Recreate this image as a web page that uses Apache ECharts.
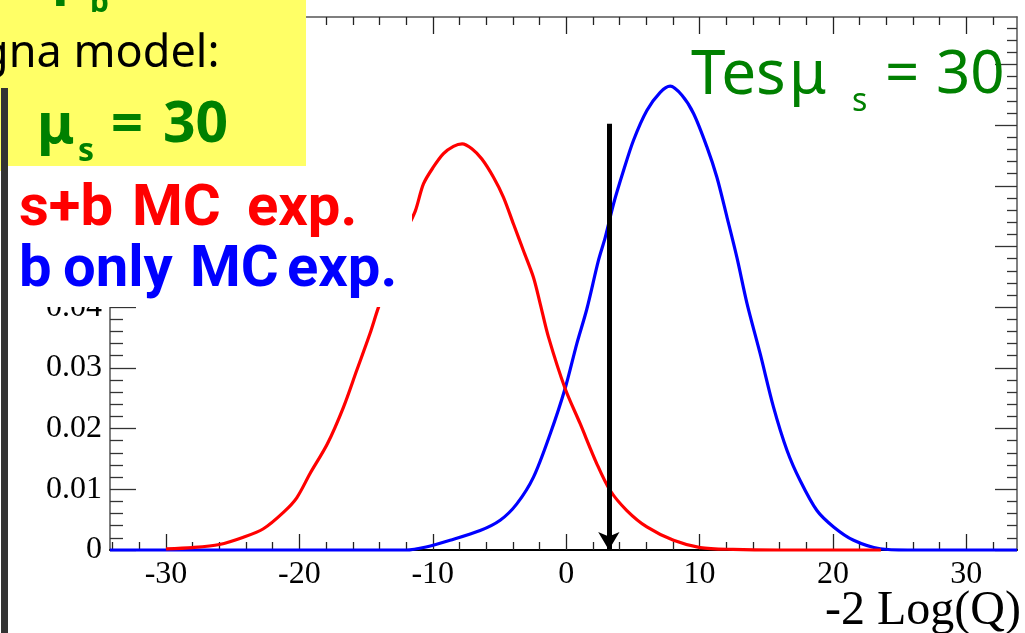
<!DOCTYPE html>
<html>
<head>
<meta charset="utf-8">
<script src="https://cdn.jsdelivr.net/npm/echarts@6/dist/echarts.min.js"></script>
<style>html,body{margin:0;padding:0;background:#fff;}#c{width:1025px;height:633px;}</style>
</head>
<body>
<div id="c"></div>
<script>
// ---- data ----
const xMin = -34.2, xMax = 33.8, yMax = 0.0878;
const xMajorTicks = [-30, -20, -10, 0, 10, 20, 30];
const xMinorTicks = [-34, -32, -28, -26, -24, -22, -18, -16, -14, -12, -8, -6, -4, -2, 2, 4, 6, 8, 12, 14, 16, 18, 22, 24, 26, 28, 32];
const yMajorTicks = [0, 0.01, 0.02, 0.03, 0.04, 0.05, 0.06, 0.07, 0.08];
const yMinorTicks = [0.002, 0.004, 0.006, 0.008, 0.012, 0.014, 0.016, 0.018, 0.022, 0.024, 0.026, 0.028, 0.032, 0.034, 0.036, 0.038, 0.042, 0.044, 0.046, 0.048, 0.052, 0.054, 0.056, 0.058, 0.062, 0.064, 0.066, 0.068, 0.072, 0.074, 0.076, 0.078, 0.082, 0.084, 0.086];

// s+b MC experiments (red)
const sbX = [-30.0, -28.0, -26.0, -24.2, -22.7, -21.2, -20.2, -19.2, -17.9, -16.7, -15.7, -14.7, -14.1, -13.0, -12.0, -11.3, -10.7, -9.95, -9.2, -8.45, -7.8, -7.07, -6.32, -5.45, -4.7, -3.95, -3.2, -2.45, -1.95, -1.33, -0.08, 1.05, 2.3, 3.3, 4.55, 6.05, 8.05, 10.05, 12.5, 16.0, 20.0, 23.6];
const sbY = [0.0002, 0.0004, 0.0009, 0.0021, 0.0035, 0.0062, 0.0086, 0.0126, 0.0175, 0.0235, 0.0296, 0.0357, 0.0398, 0.0465, 0.0525, 0.0559, 0.0603, 0.0631, 0.0653, 0.0665, 0.0669, 0.0661, 0.0644, 0.0614, 0.0581, 0.0537, 0.0493, 0.0449, 0.0406, 0.0351, 0.0266, 0.0208, 0.0142, 0.0098, 0.0065, 0.0038, 0.0016, 0.0004, 0.0001, 0.0, 0.0, 0.0];

// b only MC experiments (blue)
const bX = [-34.2, -12.0, -10.5, -8.7, -6.45, -4.95, -3.7, -2.45, -1.2, -0.08, 0.8, 1.55, 2.42, 2.93, 3.55, 4.3, 5.05, 6.05, 7.05, 7.8, 8.68, 9.55, 10.55, 11.3, 12.06, 12.8, 13.56, 14.55, 15.55, 16.56, 17.55, 18.8, 20.05, 21.55, 23.55, 25.6, 33.8];
const bY = [0.0, 0.0, 0.0005, 0.0016, 0.0032, 0.0049, 0.0076, 0.0120, 0.0191, 0.0266, 0.0340, 0.0397, 0.0477, 0.0515, 0.0570, 0.0625, 0.0675, 0.0724, 0.0754, 0.0764, 0.0749, 0.0719, 0.0664, 0.0614, 0.0548, 0.0482, 0.0406, 0.0323, 0.0235, 0.0164, 0.0114, 0.0065, 0.0038, 0.0016, 0.0002, 0.0, 0.0];

// observed value (arrow)
const obsX = 3.2;
const obsTop = 0.0702;

// ---- chart ----
const chart = echarts.init(document.getElementById('c'), null, {renderer: 'canvas'});
const sbData = sbX.map((x, i) => [x, sbY[i]]);
const bData = bX.map((x, i) => [x, bY[i]]);

const serif = 'Liberation Serif';
const green = '#008000';
const boldFont = 'bold 58px Roboto';

function xAx(pos, ticks, len, withLine, withLabel) {
  return {
    type: 'value', position: pos, min: xMin, max: xMax,
    axisLine: {show: withLine, onZero: false, lineStyle: {color: pos === 'bottom' ? '#000' : '#555', width: pos === 'bottom' ? 2 : 1.5}},
    axisTick: {show: true, inside: true, length: len, customValues: ticks, lineStyle: {color: '#222', width: 1.3}},
    axisLabel: withLabel ? {show: true, customValues: ticks, fontFamily: serif, fontSize: 32, color: '#000', margin: 9} : {show: false},
    splitLine: {show: false}
  };
}
function yAx(pos, ticks, len, withLine, withLabel) {
  return {
    type: 'value', position: pos, min: 0, max: yMax,
    axisLine: {show: withLine, onZero: false, lineStyle: {color: '#555', width: 1.5}},
    axisTick: {show: true, inside: true, length: len, customValues: ticks, lineStyle: {color: '#333', width: 1.3}},
    axisLabel: withLabel ? {show: true, customValues: ticks, fontFamily: serif, fontSize: 32, color: '#000', margin: 8,
      formatter: v => (v === 0 ? '0' : v.toFixed(2))} : {show: false},
    splitLine: {show: false}
  };
}

function word(txt, x, y, color, font) {
  return {type: 'text', z: 102, x: x, y: y, style: {text: txt, font: font, fill: color, verticalAlign: 'middle'}};
}

const option = {
  animation: false,
  backgroundColor: '#fff',
  grid: {left: 110, right: 8, top: 17, bottom: 83},
  xAxis: [
    xAx('bottom', xMajorTicks, 16, true, true),
    xAx('bottom', xMinorTicks, 8, false, false),
    xAx('top', xMajorTicks, 17, true, false),
    xAx('top', xMinorTicks, 8, false, false)
  ],
  yAxis: [
    yAx('left', yMajorTicks, 26, true, true),
    yAx('left', yMinorTicks, 13, false, false),
    yAx('right', yMajorTicks, 22, true, false),
    yAx('right', yMinorTicks, 10, false, false)
  ],
  series: [
    {
      name: 'b only MC exp.', type: 'line', data: bData, xAxisIndex: 0, yAxisIndex: 0,
      showSymbol: false, smooth: 0.3, clip: false, z: 3,
      lineStyle: {color: '#0000ff', width: 3.2}
    },
    {
      name: 's+b MC exp.', type: 'line', data: sbData, xAxisIndex: 0, yAxisIndex: 0,
      showSymbol: false, smooth: 0.3, clip: false, z: 4,
      lineStyle: {color: '#ff0000', width: 3.2},
      markLine: {
        silent: true, symbol: ['none', 'arrow'], symbolSize: [16, 18], z: 5,
        label: {show: false},
        lineStyle: {color: '#000', width: 5, type: 'solid'},
        data: [[{coord: [obsX, obsTop]}, {coord: [obsX, 0]}]]
      }
    }
  ],
  graphic: [
    // yellow box
    {type: 'rect', z: 100, shape: {x: 0, y: 0, width: 306, height: 166}, style: {fill: '#ffff66'}},
    {type: 'rect', z: 100, shape: {x: 0, y: 166, width: 18, height: 5}, style: {fill: '#ffff66'}},
    // white box behind legend text
    {type: 'rect', z: 100, shape: {x: 8, y: 166, width: 404, height: 141}, style: {fill: '#ffffff'}},
    {type: 'rect', z: 100, shape: {x: 18, y: 166, width: 288, height: 5}, style: {fill: '#ffffff'}},
    // dark left bar
    {type: 'rect', z: 101, shape: {x: 1, y: 88, width: 7, height: 545}, style: {fill: '#333333'}},
    // cut-off text at top
    {type: 'text', z: 102, x: 52, y: 5, style: {text: 'μ', font: 'bold 56px "Noto Sans"', fill: green, verticalAlign: 'bottom'}},
    {type: 'text', z: 102, x: 90, y: 18, style: {text: 'b', font: 'bold 30px "Noto Sans"', fill: green, verticalAlign: 'bottom'}},
    // signal model
    word('gna model:', -19, 54, '#000', '45px "Noto Sans"'),
    word('μ', 37, 127, green, 'bold 56px "Noto Sans"'),
    word('s', 78, 152, green, 'bold 32px "Noto Sans"'),
    word('=', 111, 126, green, 'bold 56px "Noto Sans"'),
    word('30', 163, 126, green, 'bold 57px "Noto Sans"'),
    // legend-like texts
    word('s+b', 19, 210, '#ff0000', boldFont),
    word('MC', 132, 210, '#ff0000', boldFont),
    word('exp.', 247, 210, '#ff0000', boldFont),
    word('b', 19, 271, '#0000ff', boldFont),
    word('only', 63, 271, '#0000ff', boldFont),
    word('MC', 190, 271, '#0000ff', boldFont),
    word('exp.', 287, 271, '#0000ff', boldFont),
    // test label
    word('Tes', 691, 76, green, '62px "Noto Sans"'),
    word('μ', 789, 76, green, '60px "Noto Sans"'),
    word('s', 852, 102, green, '32px "Noto Sans"'),
    word('=', 885, 76, green, '60px "Noto Sans"'),
    word('30', 936, 76, green, '60px "Noto Sans"'),
    // x axis title
    {type: 'text', z: 102, right: 4, top: 587, style: {text: '-2 Log(Q)', font: '48px "Liberation Serif"', fill: '#000'}}
  ]
};
chart.setOption(option);
</script>
</body>
</html>
